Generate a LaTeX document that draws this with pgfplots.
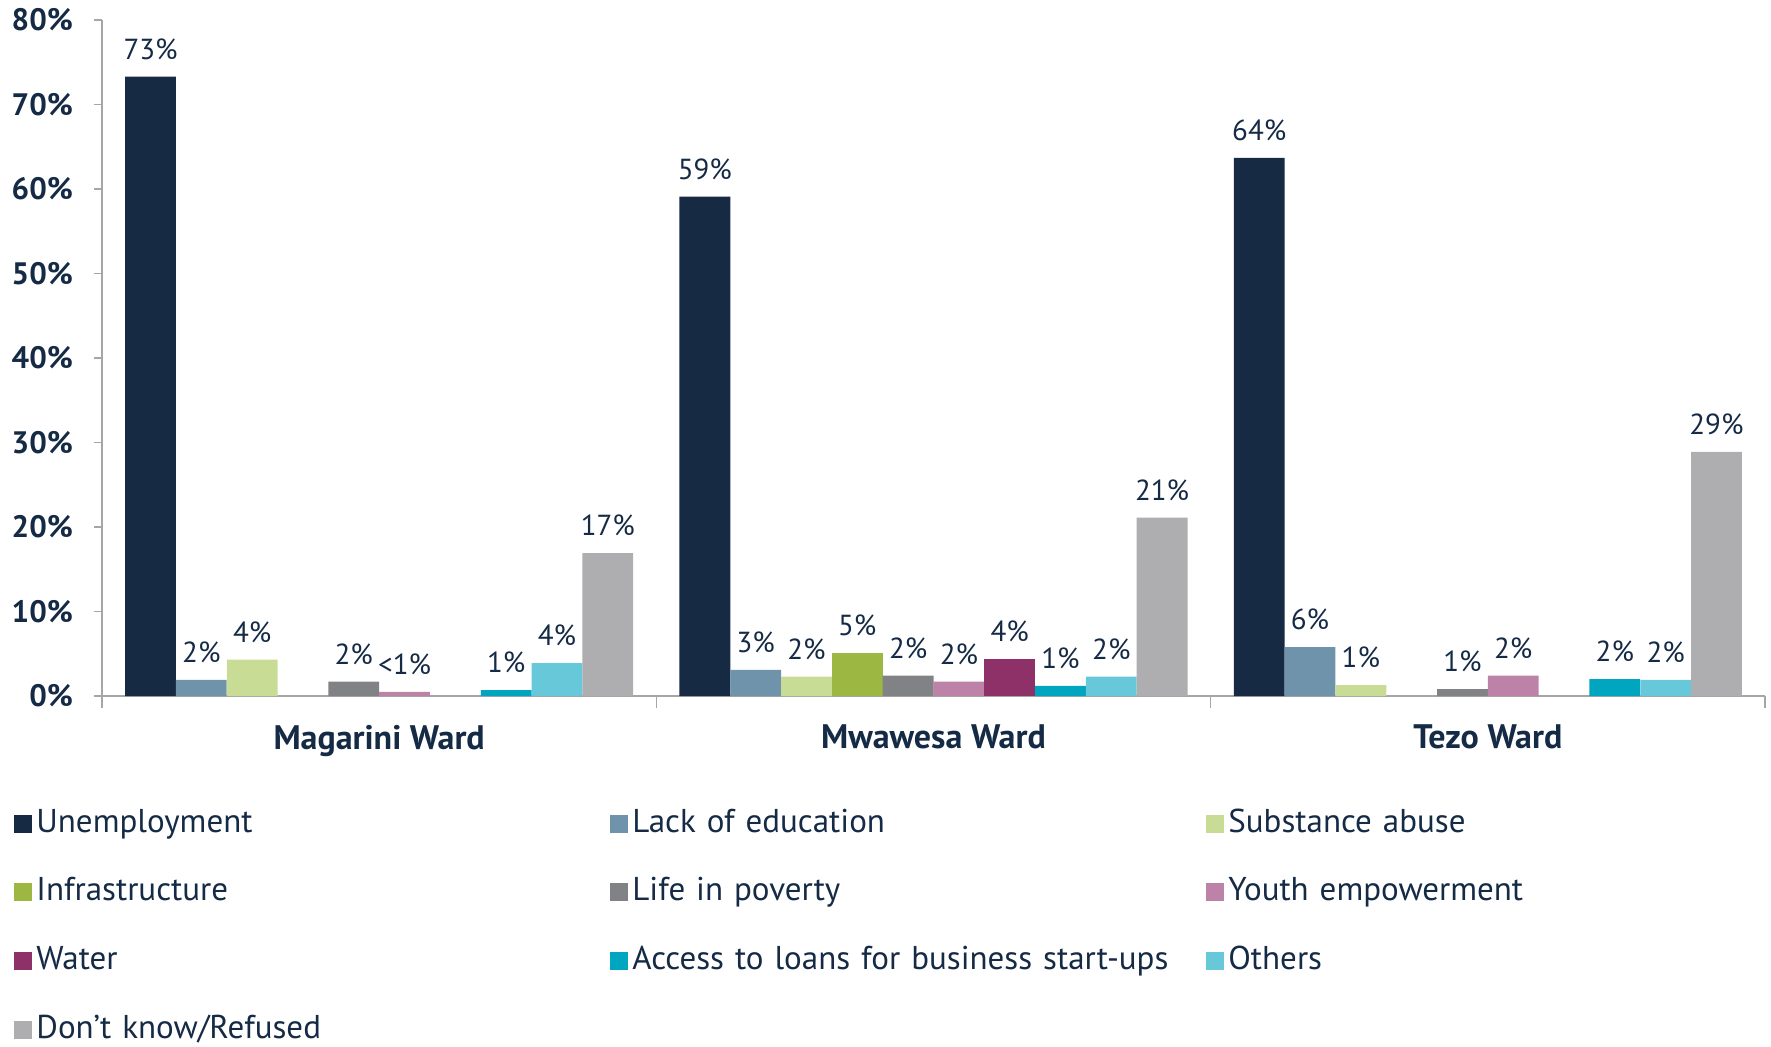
\documentclass[border=0pt]{standalone}
\usepackage{pgfplots}
\pgfplotsset{compat=1.18}
\usepackage{fontspec}
\setmainfont{PT Sans}
\definecolor{txt}{HTML}{152A45}
\definecolor{axgray}{HTML}{A6A6A6}
\definecolor{cA}{HTML}{162A44}
\definecolor{cB}{HTML}{6E93AA}
\definecolor{cC}{HTML}{C8DC96}
\definecolor{cD}{HTML}{9CB843}
\definecolor{cE}{HTML}{818286}
\definecolor{cF}{HTML}{BC82A8}
\definecolor{cG}{HTML}{8E3169}
\definecolor{cH}{HTML}{00A6C0}
\definecolor{cI}{HTML}{66C8D8}
\definecolor{cJ}{HTML}{AEAEB0}
\begin{document}
\begin{tikzpicture}
\useasboundingbox (0,0) rectangle (885.5pt,523pt);
\begin{axis}[
  at={(51pt,175pt)}, anchor=south west,
  scale only axis, width=831.5pt, height=338pt,
  ybar, bar width=0.09165,
  legend image code/.code={\fill[#1] (0pt,-4.5pt) rectangle (9pt,4.5pt);},
  xmin=-0.5, xmax=2.5, ymin=0, ymax=80,
  axis x line*=bottom, axis y line*=left,
  axis line style={draw=axgray, line width=0.8pt},
  xtick={0,1,2}, xticklabels={Magarini Ward, Mwawesa Ward, Tezo Ward},
  xticklabel style={font=\fontsize{17}{20}\selectfont\bfseries, text=txt, yshift=-7pt},
  major x tick style={draw=none},
  extra x ticks={-0.5,0.5,1.5,2.5}, extra x tick labels={},
  extra x tick style={major tick length=6pt, tick align=outside, major x tick style={draw=axgray, line width=0.8pt}},
  ytick={0,10,...,80},
  yticklabel={\pgfmathprintnumber{\tick}\%},
  yticklabel style={font=\fontsize{15.5}{18}\selectfont\bfseries, text=txt, xshift=-7pt},
  /pgf/number format/assume math mode=true,
  major y tick style={draw=axgray, line width=0.8pt},
  major tick length=4pt, tick align=outside,
  point meta=explicit symbolic,
  nodes near coords={\pgfplotspointmeta\%},
  every node near coord/.append style={font=\fontsize{14.5}{16}\selectfont, text=txt, yshift=5pt},
  clip=false,
  legend columns=3,
  legend cell align=left,
  legend style={at={(-0.0529,-0.1595)}, anchor=north west, draw=none, fill=none, inner sep=0pt,
    font=\fontsize{16.5}{19}\selectfont, text=txt, row sep=14.8pt,
    nodes={text width=285pt, text height=12pt, text depth=3.5pt}},
]
\addplot[fill=cA, draw=none, bar shift=-0.4124] table[meta=label] {
x y label
0 73.3 73
1 59.1 59
2 63.7 64
};
\addlegendentry{Unemployment}
\addplot[fill=cB, draw=none, bar shift=-0.3208] table[meta=label] {
x y label
0 1.9 2
1 3.1 3
2 5.8 6
};
\addlegendentry{Lack of education}
\addplot[fill=cC, draw=none, bar shift=-0.2291] table[meta=label] {
x y label
0 4.3 4
1 2.3 2
2 1.3 1
};
\addlegendentry{Substance abuse}
\addplot[fill=cD, draw=none, bar shift=-0.1375] table[meta=label] {
x y label
1 5.1 5
};
\addlegendentry{Infrastructure}
\addplot[fill=cE, draw=none, bar shift=-0.0458] table[meta=label] {
x y label
0 1.7 2
1 2.4 2
2 0.8 1
};
\addlegendentry{Life in poverty}
\addplot[fill=cF, draw=none, bar shift=0.0458] table[meta=label] {
x y label
0 0.5 <1
1 1.7 2
2 2.4 2
};
\addlegendentry{Youth empowerment}
\addplot[fill=cG, draw=none, bar shift=0.1375] table[meta=label] {
x y label
1 4.4 4
};
\addlegendentry{Water}
\addplot[fill=cH, draw=none, bar shift=0.2291] table[meta=label] {
x y label
0 0.7 1
1 1.2 1
2 2.0 2
};
\addlegendentry{Access to loans for business start-ups}
\addplot[fill=cI, draw=none, bar shift=0.3208] table[meta=label] {
x y label
0 3.9 4
1 2.3 2
2 1.9 2
};
\addlegendentry{Others}
\addplot[fill=cJ, draw=none, bar shift=0.4124] table[meta=label] {
x y label
0 16.9 17
1 21.1 21
2 28.9 29
};
\addlegendentry{Don’t know/Refused}
\end{axis}
\end{tikzpicture}
\end{document}
